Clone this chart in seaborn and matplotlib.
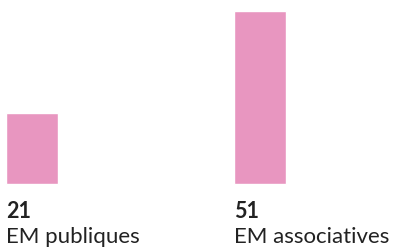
import matplotlib
matplotlib.use("Agg")
import matplotlib.pyplot as plt
import seaborn as sns
import pandas as pd

# données
categories = ["EM publiques", "EM associatives"]
values = [21, 51]

df = pd.DataFrame({"cat": categories, "val": values})

sns.set_style("white")
plt.rcParams['font.family'] = ['Lato', 'DejaVu Sans']

fig = plt.figure(figsize=(4, 2.47), dpi=100)
ax = fig.add_axes([0, 0, 1, 1])

sns.barplot(data=df, x="cat", y="val", color="#E896C0", saturation=1,
            width=0.228, ax=ax)

ax.set_xlim(-0.1404, 1.614)
ax.set_ylim(-18.6, 54.3)
ax.axis("off")

for p, cat, v in zip(ax.patches, categories, values):
    x0 = p.get_x()
    ax.text(x0, -10.0, str(v), fontsize=15.5, fontweight="bold",
            color="#222222", ha="left", va="baseline")
    ax.text(x0, -17.3, cat, fontsize=16, color="#222222",
            ha="left", va="baseline")

fig.savefig("out.png", dpi=100)
